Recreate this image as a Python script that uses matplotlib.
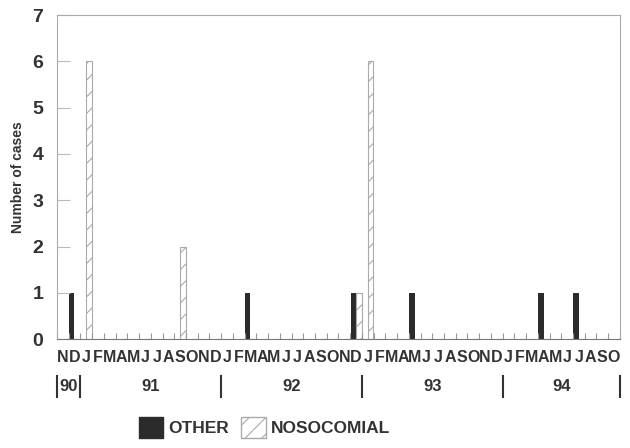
import matplotlib.pyplot as plt
import numpy as np
from matplotlib.patches import Patch

# months Nov 1990 .. Oct 1994
months = list("ND") + list("JFMAMJJASOND") * 3 + list("JFMAMJJASO")
other = [0, 1, 0, 0, 0, 0, 0, 0, 0, 0, 0, 0, 0, 0,
         0, 0, 1, 0, 0, 0, 0, 0, 0, 0, 0, 1,
         0, 0, 0, 0, 1, 0, 0, 0, 0, 0, 0, 0,
         0, 0, 0, 1, 0, 0, 1, 0, 0, 0]
nosocomial = [0, 0, 6, 0, 0, 0, 0, 0, 0, 0, 2, 0, 0, 0,
              0, 0, 0, 0, 0, 0, 0, 0, 0, 0, 0, 1,
              6, 0, 0, 0, 0, 0, 0, 0, 0, 0, 0, 0,
              0, 0, 0, 0, 0, 0, 0, 0, 0, 0]
years = ["90", "91", "92", "93", "94"]
year_starts = [0, 2, 14, 26, 38, 48]  # month index where each year begins

plt.rcParams['font.family'] = ['Liberation Sans', 'DejaVu Sans']
plt.rcParams['hatch.color'] = "#aaaaaa"
plt.rcParams['hatch.linewidth'] = 0.8

dark = "#2b2b2b"
txt = "#333333"
fig = plt.figure(figsize=(6.3, 4.48), dpi=100)
ax = fig.add_axes([0.0905, 0.243, 0.8935, 0.7235])

x = np.arange(len(months))
ax.bar(x - 0.24, other, width=0.46, color=dark, linewidth=0)
ax.bar(x + 0.24, nosocomial, width=0.46, color="white", edgecolor="#aaaaaa",
       hatch="//", linewidth=0.8)

ax.set_xlim(-0.5, len(months) - 0.5)
ax.set_ylim(0, 7)
ax.set_yticks(range(8))
ax.set_yticklabels([str(i) for i in range(8)], fontsize=14, fontweight="bold", color=txt)
ax.tick_params(axis="y", direction="in", length=9, color="#bbbbbb", pad=10)

# month boundary ticks
ax.set_xticks(np.arange(len(months) + 1) - 0.5)
ax.set_xticklabels([])
ax.tick_params(axis="x", direction="in", length=4, color="#999999")

for s in ["top", "right"]:
    ax.spines[s].set_color("#aaaaaa")
ax.spines["left"].set_color("#aaaaaa")
ax.spines["bottom"].set_color("#777777")

ax.set_ylabel("Number of cases", fontsize=10, fontweight="bold", color=txt, labelpad=5)

# month letters
trans = ax.get_xaxis_transform()
for i, m in enumerate(months):
    ax.text(i, -0.032, m, transform=trans, ha="center", va="top", fontsize=11.5,
            fontweight="bold", color=txt)

# year labels and separators
for k, y in enumerate(years):
    a, b = year_starts[k], year_starts[k + 1]
    ax.text((a + b) / 2 - 0.5, -0.145, y, transform=trans, ha="center", va="center",
            fontsize=12, fontweight="bold", color=txt)
for s in year_starts:
    ax.plot([s - 0.5, s - 0.5], [-0.115, -0.18], transform=trans, color=txt,
            lw=1.5, clip_on=False)

handles = [Patch(facecolor=dark, edgecolor=dark),
           Patch(facecolor="white", edgecolor="#aaaaaa", hatch="//")]
fig.legend(handles, ["OTHER", "NOSOCOMIAL"], loc="lower center", bbox_to_anchor=(0.42, -0.012),
           ncol=2, frameon=False, prop={"weight": "bold", "size": 12.5}, handlelength=1.4,
           handleheight=1.5, handletextpad=0.3, columnspacing=0.7, labelcolor=txt)

fig.savefig("out.png", dpi=100)
